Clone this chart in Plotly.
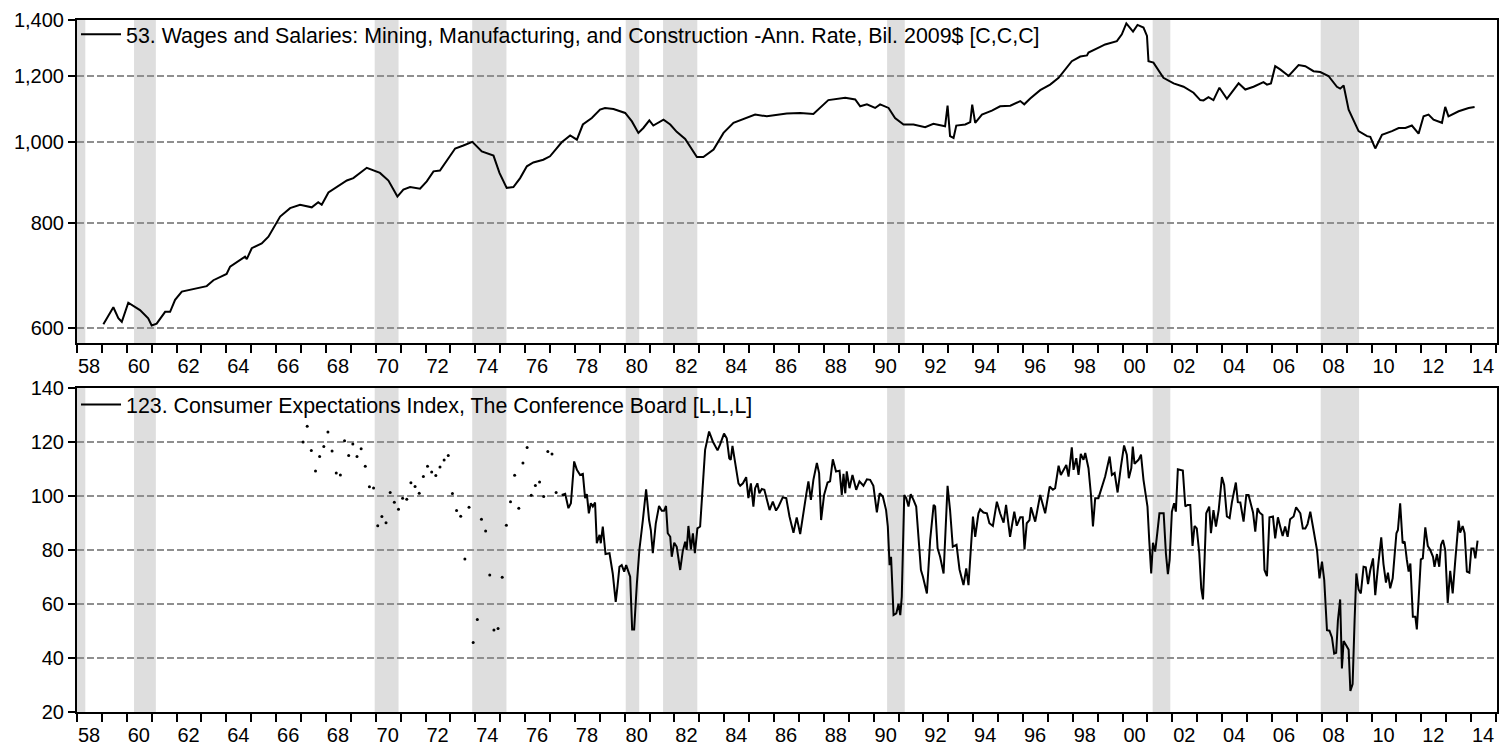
import math
import plotly.graph_objects as go
from plotly.subplots import make_subplots

# ---------------- data ----------------
wages_year = [1959.06, 1959.46, 1959.66, 1959.80, 1960.06, 1960.53, 1960.86, 1961.00, 1961.20, 1961.54,
              1961.74, 1961.94, 1962.21, 1962.81, 1963.21, 1963.48, 1964.01, 1964.15, 1964.75, 1964.82,
              1965.02, 1965.42, 1965.69, 1966.16, 1966.56, 1966.96, 1967.43, 1967.69, 1967.83, 1968.10,
              1968.43, 1968.84, 1969.10, 1969.64, 1970.17, 1970.51, 1970.87, 1971.11, 1971.38, 1971.78,
              1972.05, 1972.32, 1972.58, 1973.19, 1973.52, 1973.88, 1974.26, 1974.73, 1974.97, 1975.26,
              1975.53, 1975.80, 1976.07, 1976.33, 1976.73, 1977.00, 1977.47, 1977.81, 1978.08, 1978.32,
              1978.68, 1979.01, 1979.21, 1979.55, 1980.02, 1980.29, 1980.55, 1980.75, 1980.99, 1981.15,
              1981.56, 1981.83, 1982.09, 1982.43, 1982.90, 1983.16, 1983.57, 1983.97, 1984.37, 1984.91,
              1985.24, 1985.71, 1986.11, 1986.51, 1987.05, 1987.58, 1988.18, 1988.86, 1989.26, 1989.46,
              1989.73, 1990.06, 1990.26, 1990.60, 1990.86, 1991.20, 1991.60, 1992.07, 1992.40, 1992.87,
              1992.97, 1993.07, 1993.21, 1993.32, 1993.68, 1993.88, 1993.96, 1994.08, 1994.35, 1994.75,
              1995.08, 1995.49, 1995.89, 1996.05, 1996.29, 1996.69, 1997.09, 1997.43, 1997.96, 1998.30,
              1998.57, 1998.63, 1999.10, 1999.30, 1999.77, 1999.97, 2000.15, 2000.42, 2000.60, 2000.84,
              2000.98, 2001.04, 2001.24, 2001.64, 2002.05, 2002.45, 2002.85, 2003.12, 2003.25, 2003.45,
              2003.65, 2003.89, 2004.19, 2004.66, 2004.93, 2005.26, 2005.66, 2005.80, 2005.96, 2006.13,
              2006.33, 2006.67, 2007.07, 2007.34, 2007.67, 2007.94, 2008.27, 2008.61, 2008.74, 2008.88,
              2009.08, 2009.48, 2009.82, 2009.95, 2010.15, 2010.42, 2010.82, 2011.09, 2011.36, 2011.62,
              2011.89, 2012.09, 2012.29, 2012.49, 2012.83, 2012.96, 2013.09, 2013.50, 2013.90, 2014.14]
wages_value = [606, 635, 616, 610, 643, 630, 616, 604, 607, 627,
               627, 648, 663, 669, 673, 684, 696, 710, 730, 725,
               747, 757, 771, 815, 834, 842, 836, 848, 842, 871,
               884, 900, 906, 932, 919, 900, 861, 878, 884, 880,
               898, 923, 925, 983, 991, 1001, 975, 964, 919, 882,
               884, 906, 936, 946, 953, 962, 1000, 1019, 1007, 1050,
               1069, 1094, 1099, 1096, 1084, 1059, 1026, 1040, 1062, 1047,
               1064, 1050, 1029, 1009, 960, 960, 980, 1026, 1055, 1069,
               1079, 1074, 1079, 1082, 1084, 1081, 1123, 1130, 1125, 1104,
               1110, 1099, 1110, 1099, 1069, 1050, 1050, 1042, 1052, 1045,
               1106, 1017, 1012, 1047, 1050, 1057, 1109, 1055, 1079, 1091,
               1104, 1106, 1120, 1110, 1128, 1154, 1172, 1194, 1250, 1266,
               1270, 1280, 1300, 1309, 1321, 1346, 1387, 1356, 1381, 1371,
               1340, 1250, 1245, 1194, 1176, 1165, 1146, 1123, 1122, 1132,
               1123, 1162, 1127, 1176, 1156, 1165, 1180, 1172, 1176, 1233,
               1222, 1200, 1237, 1233, 1216, 1213, 1200, 1165, 1159, 1169,
               1094, 1031, 1017, 1015, 983, 1021, 1031, 1040, 1040, 1047,
               1024, 1074, 1079, 1064, 1055, 1102, 1074, 1089, 1099, 1102]

# Consumer expectations: bimonthly observations (dots), first one Feb 1967
cei_dot_start = 1967.08
cei_dot_value = [120.0, 125.8, 116.9, 109.3, 114.6, 118.3, 123.7, 116.7, 108.5, 107.8,
                 120.5, 115.0, 119.3, 114.6, 117.5, 111.0, 103.4, 103.0, 89.0, 92.4,
                 90.1, 101.3, 97.7, 95.1, 99.2, 98.8, 104.9, 103.5, 101.0, 107.2,
                 111.0, 108.9, 107.6, 110.7, 113.3, 115.0, 100.9, 94.6, 92.5, 76.7,
                 95.8, 45.7, 54.3, 91.4, 87.0, 70.7, 50.4, 50.9, 69.9, 89.2,
                 97.9, 107.7, 95.5, 112.2, 118.0, 100.3, 103.9, 105.2, 99.8, 116.5,
                 115.6, 101.3]

# Consumer expectations: monthly line
cei_year = [1977.47, 1977.61, 1977.74, 1977.84, 1977.97, 1978.08, 1978.21, 1978.32, 1978.41, 1978.48,
            1978.56, 1978.64, 1978.72, 1978.81, 1978.88, 1978.99, 1979.04, 1979.12, 1979.23, 1979.39,
            1979.52, 1979.64, 1979.71, 1979.79, 1979.88, 1979.98, 1980.06, 1980.15, 1980.22, 1980.30,
            1980.38, 1980.49, 1980.59, 1980.73, 1980.86, 1980.98, 1981.05, 1981.13, 1981.25, 1981.38,
            1981.49, 1981.58, 1981.66, 1981.73, 1981.83, 1981.89, 1981.99, 1982.09, 1982.23, 1982.33,
            1982.43, 1982.49, 1982.56, 1982.66, 1982.74, 1982.82, 1982.92, 1983.03, 1983.12, 1983.23,
            1983.39, 1983.54, 1983.73, 1983.83, 1983.99, 1984.10, 1984.20, 1984.26, 1984.33, 1984.44,
            1984.57, 1984.64, 1984.75, 1984.88, 1984.97, 1985.07, 1985.17, 1985.24, 1985.33, 1985.41,
            1985.51, 1985.61, 1985.71, 1985.82, 1985.95, 1986.08, 1986.18, 1986.35, 1986.49, 1986.62,
            1986.78, 1986.91, 1987.05, 1987.18, 1987.29, 1987.38, 1987.48, 1987.58, 1987.72, 1987.81,
            1987.89, 1988.01, 1988.15, 1988.25, 1988.36, 1988.49, 1988.63, 1988.72, 1988.79, 1988.86,
            1988.92, 1989.03, 1989.15, 1989.30, 1989.43, 1989.59, 1989.73, 1989.86, 1989.99, 1990.13,
            1990.24, 1990.37, 1990.50, 1990.57, 1990.64, 1990.70, 1990.80, 1990.91, 1991.00, 1991.07,
            1991.13, 1991.23, 1991.31, 1991.40, 1991.49, 1991.60, 1991.71, 1991.90, 1991.98, 1992.14,
            1992.27, 1992.41, 1992.47, 1992.57, 1992.67, 1992.81, 1992.87, 1992.97, 1993.07, 1993.18,
            1993.33, 1993.45, 1993.61, 1993.72, 1993.81, 1993.91, 1993.99, 1994.08, 1994.21, 1994.28,
            1994.41, 1994.55, 1994.65, 1994.79, 1994.95, 1995.08, 1995.22, 1995.32, 1995.48, 1995.65,
            1995.75, 1995.89, 1995.99, 1996.06, 1996.15, 1996.26, 1996.32, 1996.49, 1996.69, 1996.80,
            1996.89, 1997.07, 1997.20, 1997.29, 1997.43, 1997.52, 1997.63, 1997.74, 1997.83, 1997.96,
            1998.03, 1998.14, 1998.23, 1998.32, 1998.43, 1998.50, 1998.63, 1998.73, 1998.81, 1998.90,
            1999.03, 1999.17, 1999.30, 1999.48, 1999.57, 1999.68, 1999.80, 1999.93, 2000.06, 2000.17,
            2000.25, 2000.35, 2000.41, 2000.48, 2000.64, 2000.74, 2000.84, 2000.94, 2001.00, 2001.07,
            2001.15, 2001.22, 2001.31, 2001.40, 2001.48, 2001.65, 2001.74, 2001.82, 2001.89, 2001.98,
            2002.07, 2002.14, 2002.22, 2002.42, 2002.52, 2002.61, 2002.72, 2002.81, 2002.89, 2002.98,
            2003.08, 2003.16, 2003.23, 2003.29, 2003.36, 2003.48, 2003.55, 2003.65, 2003.75, 2003.86,
            2003.99, 2004.08, 2004.19, 2004.30, 2004.39, 2004.55, 2004.63, 2004.73, 2004.86, 2004.97,
            2005.06, 2005.15, 2005.24, 2005.33, 2005.42, 2005.50, 2005.62, 2005.70, 2005.80, 2005.90,
            2006.04, 2006.13, 2006.24, 2006.33, 2006.43, 2006.53, 2006.63, 2006.73, 2006.87, 2006.97,
            2007.07, 2007.14, 2007.24, 2007.34, 2007.43, 2007.54, 2007.67, 2007.81, 2007.91, 2008.01,
            2008.10, 2008.21, 2008.31, 2008.41, 2008.50, 2008.58, 2008.65, 2008.74, 2008.81, 2008.88,
            2008.98, 2009.08, 2009.15, 2009.24, 2009.32, 2009.39, 2009.48, 2009.57, 2009.68, 2009.77,
            2009.86, 2009.95, 2010.06, 2010.15, 2010.24, 2010.39, 2010.48, 2010.58, 2010.66, 2010.75,
            2010.85, 2010.93, 2011.00, 2011.06, 2011.15, 2011.25, 2011.33, 2011.42, 2011.49, 2011.56,
            2011.66, 2011.76, 2011.82, 2011.89, 2011.98, 2012.06, 2012.16, 2012.26, 2012.36, 2012.47,
            2012.53, 2012.63, 2012.72, 2012.79, 2012.87, 2012.96, 2013.06, 2013.16, 2013.26, 2013.36,
            2013.50, 2013.56, 2013.66, 2013.74, 2013.83, 2013.93, 2014.01, 2014.10, 2014.17, 2014.26]
cei_value = [100.4, 100.8, 95.5, 97.3, 112.8, 109.7, 107.8, 108.2, 99.2, 100.7,
             93.6, 97.3, 96.1, 97.6, 82.5, 85.6, 82.5, 88.7, 78.5, 78.8,
             71.3, 60.8, 66.4, 73.8, 74.4, 72.0, 74.4, 71.6, 70.1, 50.6,
             50.6, 67.6, 80.0, 91.1, 102.5, 91.1, 87.4, 78.8, 89.9, 96.3,
             94.5, 94.5, 96.3, 86.2, 84.9, 77.5, 82.7, 81.2, 72.6, 79.4,
             83.1, 80.0, 88.9, 80.2, 86.2, 78.8, 88.0, 88.7, 101.0, 117.1,
             123.9, 120.2, 116.9, 119.0, 123.1, 121.4, 114.0, 113.4, 118.6, 111.5,
             104.7, 103.8, 104.7, 107.0, 99.2, 104.7, 96.1, 102.9, 104.7, 101.0,
             102.6, 102.3, 98.6, 94.8, 97.9, 94.6, 96.1, 99.5, 99.2, 92.4,
             86.4, 92.1, 85.9, 94.8, 100.4, 105.4, 98.6, 106.0, 112.2, 108.5,
             91.1, 100.4, 105.0, 105.4, 113.6, 109.1, 109.4, 100.4, 108.2, 101.0,
             109.1, 102.9, 107.8, 102.3, 105.4, 103.8, 106.2, 106.0, 103.8, 93.9,
             101.0, 99.8, 94.8, 88.7, 74.4, 77.5, 55.9, 56.5, 60.0, 55.9,
             62.7, 100.4, 99.2, 96.1, 100.7, 98.6, 96.1, 72.6, 70.1, 63.9,
             83.7, 96.7, 96.1, 80.6, 77.5, 71.3, 86.2, 103.8, 94.8, 81.2,
             81.9, 72.8, 67.0, 73.2, 67.0, 81.2, 92.4, 84.9, 93.6, 95.1,
             93.9, 93.6, 89.9, 88.9, 97.9, 93.6, 90.1, 96.7, 84.9, 94.2,
             89.0, 92.1, 92.1, 80.2, 89.9, 91.1, 95.8, 90.5, 100.4, 96.7,
             93.6, 103.5, 102.3, 102.9, 111.2, 107.8, 109.7, 111.5, 107.2, 118.0,
             109.7, 114.0, 107.8, 115.6, 113.4, 115.9, 110.3, 100.4, 88.7, 99.2,
             99.2, 103.5, 107.2, 114.6, 107.8, 108.5, 101.3, 110.7, 118.7, 115.3,
             106.6, 110.3, 118.3, 111.9, 113.4, 115.3, 106.0, 99.8, 96.1, 83.7,
             71.3, 82.7, 79.4, 86.8, 93.6, 93.6, 78.8, 71.1, 76.3, 94.2,
             97.3, 94.2, 109.9, 109.4, 96.1, 96.7, 96.7, 81.5, 88.9, 88.0,
             78.8, 65.8, 61.7, 75.7, 93.6, 96.1, 86.2, 94.8, 88.7, 94.8,
             107.0, 104.1, 92.4, 91.8, 97.6, 105.0, 97.7, 97.6, 90.5, 100.4,
             100.4, 97.1, 93.9, 86.8, 95.5, 93.9, 93.0, 72.6, 70.3, 92.1,
             92.4, 84.3, 92.1, 88.7, 85.2, 88.7, 84.9, 91.4, 92.4, 95.8,
             94.2, 93.6, 88.0, 88.0, 89.6, 94.2, 87.4, 80.0, 69.5, 75.7,
             68.9, 50.3, 50.1, 47.6, 41.6, 41.9, 54.0, 61.7, 36.1, 46.3,
             44.7, 43.1, 27.8, 30.3, 54.0, 71.3, 65.4, 63.9, 73.8, 73.6,
             67.4, 72.6, 76.9, 63.3, 72.0, 84.7, 74.8, 67.9, 71.6, 65.8,
             69.5, 80.6, 86.2, 87.4, 97.3, 82.5, 83.1, 76.3, 72.0, 75.0,
             55.3, 55.3, 50.6, 61.4, 76.5, 76.9, 88.4, 81.5, 80.0, 77.5,
             73.8, 78.5, 73.8, 81.9, 83.7, 80.0, 60.4, 72.3, 63.9, 75.7,
             90.9, 86.4, 88.9, 86.2, 72.0, 71.6, 80.6, 80.6, 76.9, 83.5]

# NBER recessions (peak month, trough month)
recessions = [("1957-08", "1958-04"), ("1960-04", "1961-02"), ("1969-12", "1970-11"),
              ("1973-11", "1975-03"), ("1980-01", "1980-07"), ("1981-07", "1982-11"),
              ("1990-07", "1991-03"), ("2001-03", "2001-11"), ("2007-12", "2009-06")]

wages_label = "53. Wages and Salaries: Mining, Manufacturing, and Construction -Ann. Rate, Bil. 2009$ [C,C,C]"
cei_label = "123. Consumer Expectations Index, The Conference Board [L,L,L]"

wages_ticks = [600, 800, 1000, 1200, 1400]
wages_ticktext = ["600", "800", "1,000", "1,200", "1,400"]
year_ticks = list(range(1958, 2015, 2))
year_ticktext = [str(y)[2:] for y in year_ticks]

# ---------------- figure ----------------
FONT = "Liberation Sans, Arial, sans-serif"
TICK_SIZE = 20
LEGEND_SIZE = 21.4
cei_dot_year = [cei_dot_start + i / 6 for i in range(len(cei_dot_value))]

def ym(s, mid):
    y, m = s.split("-")
    return int(y) + (int(m) - (0.5 if mid else 0)) / 12

fig = make_subplots(rows=2, cols=1, vertical_spacing=0.065)

fig.add_trace(go.Scatter(x=wages_year, y=wages_value, mode="lines", name=wages_label,
                         line=dict(color="black", width=2), legend="legend"), row=1, col=1)
fig.add_trace(go.Scatter(x=cei_year, y=cei_value, mode="lines", name=cei_label,
                         line=dict(color="black", width=2), legend="legend2"), row=2, col=1)
fig.add_trace(go.Scatter(x=cei_dot_year, y=cei_dot_value, mode="markers", showlegend=False,
                         marker=dict(color="black", size=3)), row=2, col=1)

for p, t in recessions:
    for xr, yr in (("x", "y domain"), ("x2", "y2 domain")):
        fig.add_shape(type="rect", xref=xr, yref=yr, x0=max(ym(p, True), 1958.0), x1=ym(t, False),
                      y0=0, y1=1, fillcolor="#dedede", line=dict(width=0), layer="below")

xcommon = dict(range=[1958.0, 2015.04], tickmode="array", tickvals=year_ticks, ticktext=year_ticktext,
               ticks="outside", ticklen=8, tickwidth=1.5, tickcolor="black", ticklabelshift=12,
               ticklabelstandoff=-4,
               minor=dict(tickmode="linear", tick0=1958, dtick=1, ticks="outside", ticklen=8,
                          tickwidth=1.5, tickcolor="black", showgrid=False),
               showgrid=False, zeroline=False, showline=True, mirror=True, linecolor="black",
               linewidth=2, automargin=False,
               tickfont=dict(family=FONT, size=TICK_SIZE, color="black"))
fig.update_xaxes(**xcommon, row=1, col=1)
fig.update_xaxes(**xcommon, row=2, col=1)

ycommon = dict(ticks="outside", ticklen=7, tickwidth=1.5, tickcolor="black",
               showgrid=True, gridcolor="#8f8f8f", gridwidth=1.5, griddash="7px,3px",
               zeroline=False, showline=True, mirror=True, linecolor="black", linewidth=2,
               automargin=False, tickfont=dict(family=FONT, size=TICK_SIZE, color="black"))
fig.update_yaxes(type="log", range=[math.log10(575.4), math.log10(1400)], tickmode="array",
                 tickvals=wages_ticks, ticktext=wages_ticktext, **ycommon, row=1, col=1)
fig.update_yaxes(range=[20, 140], tickmode="linear", tick0=20, dtick=20, **ycommon, row=2, col=1)

legend_style = dict(bgcolor="rgba(0,0,0,0)", borderwidth=0, x=-0.0007, xanchor="left", yanchor="top",
                    font=dict(family=FONT, size=LEGEND_SIZE, color="black"), itemwidth=40,
                    tracegroupgap=0)
fig.update_layout(
    width=1510, height=746,
    margin=dict(l=77, r=13, t=20, b=34, autoexpand=False),
    paper_bgcolor="white", plot_bgcolor="white",
    font=dict(family=FONT, size=TICK_SIZE, color="black"),
    legend=dict(**legend_style, y=1.009),
    legend2=dict(**legend_style, y=0.474),
    showlegend=True,
)
fig.update_yaxes(domain=[0.5332, 1.0], row=1, col=1)
fig.update_yaxes(domain=[0.0, 0.4682], row=2, col=1)

fig.write_html("out.html", config={"displayModeBar": False},
               post_script="document.body.style.margin='0';document.body.style.overflow='hidden';")
